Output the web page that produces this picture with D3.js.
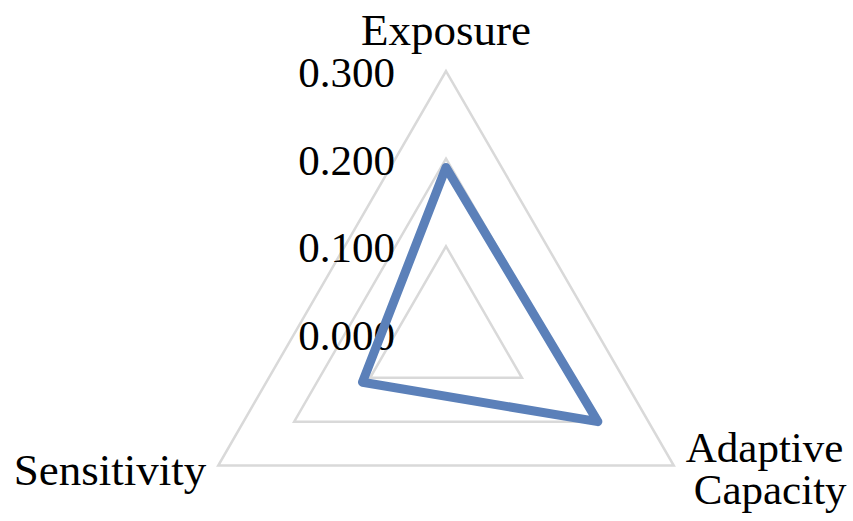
<!DOCTYPE html>
<meta charset="utf-8">
<style>
    body { margin: 0; background: #fff; }
    text { font-family: "Liberation Serif", "DejaVu Serif", serif; fill: #000; }
</style>
<svg width="853" height="521"></svg>

<script src="https://d3js.org/d3.v7.min.js"></script>
<script>
    var axes = ["Exposure", "Adaptive Capacity", "Sensitivity"],
        values = [0.19, 0.20, 0.11],
        ticks = [0.000, 0.100, 0.200, 0.300];

    (function () {
        var svg = d3.select("svg"),
            cx = 446,
            cy = 334,
            r = d3.scaleLinear().domain([0, 0.3]).range([0, 263]),
            angle = function (i) {
                return -Math.PI / 2 + i * 2 * Math.PI / axes.length;
            },
            point = function (v, i) {
                return [cx + r(v) * Math.cos(angle(i)), cy + r(v) * Math.sin(angle(i))];
            };

        // grid triangles (skip the 0 ring)
        svg.append("g")
            .selectAll("polygon")
            .data(ticks.filter(function (t) { return t > 0; }))
            .enter()
            .append("polygon")
            .attr("points", function (t) {
                return axes.map(function (a, i) { return point(t, i).join(","); }).join(" ");
            })
            .attr("fill", "none")
            .attr("stroke", "#d9d9d9")
            .attr("stroke-width", 2.5);

        // tick labels
        svg.append("g")
            .selectAll("text")
            .data(ticks)
            .enter()
            .append("text")
            .attr("x", cx - 51)
            .attr("y", function (t) { return cy - r(t) + 16; })
            .attr("text-anchor", "end")
            .attr("font-size", 43)
            .text(function (t) { return d3.format(".3f")(t); });

        // data line
        svg.append("polygon")
            .attr("points", values.map(function (v, i) { return point(v, i).join(","); }).join(" "))
            .attr("fill", "none")
            .attr("stroke", "#5b80b9")
            .attr("stroke-width", 9)
            .attr("stroke-linejoin", "round");

        // category labels
        var top = point(0.3, 0), right = point(0.3, 1), left = point(0.3, 2);

        svg.append("text")
            .attr("x", top[0])
            .attr("y", top[1] - 26)
            .attr("text-anchor", "middle")
            .attr("font-size", 45)
            .text(axes[0]);

        svg.append("text")
            .attr("y", right[1] - 4)
            .attr("font-size", 43)
            .selectAll("tspan")
            .data(axes[1].split(" "))
            .enter()
            .append("tspan")
            .attr("x", function (d, i) { return right[0] + (i ? 20 : 12); })
            .attr("dy", function (d, i) { return i ? 42 : 0; })
            .text(function (d) { return d; });

        svg.append("text")
            .attr("x", left[0] - 12)
            .attr("y", left[1] + 19)
            .attr("text-anchor", "end")
            .attr("font-size", 45)
            .text(axes[2]);
    })();
</script>
